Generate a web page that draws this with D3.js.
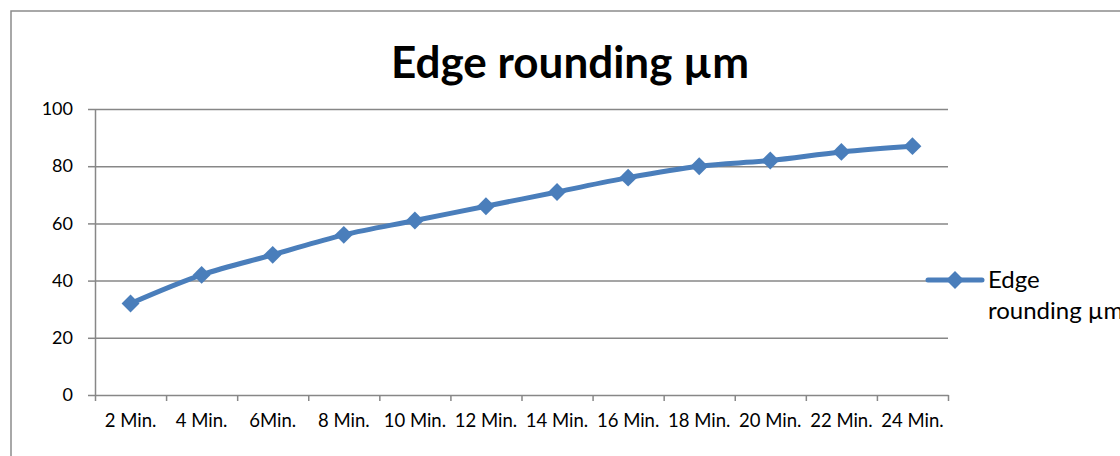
<!DOCTYPE html>
<html>
<head>
<meta charset="utf-8">
<script src="https://cdn.jsdelivr.net/npm/d3@7"></script>
<style>
  html, body { margin: 0; padding: 0; background: #fff; }
  svg { display: block; }
  text { font-family: Lato, "Open Sans", sans-serif; fill: #000; }
</style>
</head>
<body>
<svg width="1120" height="456"></svg>
<script>
// data
const categories = ["2 Min.", "4 Min.", "6Min.", "8 Min.", "10 Min.", "12 Min.",
                    "14 Min.", "16 Min.", "18 Min.", "20 Min.", "22 Min.", "24 Min."];
const edgeRounding = [32, 42, 49, 56, 61, 66, 71, 76, 80, 82, 85, 87];
const yTicks = [0, 20, 40, 60, 80, 100];
const seriesName = "Edge rounding µm";
const titleText = "Edge rounding µm";

const svg = d3.select("svg");
const area = { left: 95, right: 948, top: 109, bottom: 395 };
const lineColor = "#4a7ebb";
const gridColor = "#878787";

// outer chart frame (only top and left edge are visible)
svg.append("path")
    .attr("d", "M11,470 L11,11 L1130,11")
    .attr("fill", "none")
    .attr("stroke", "#8c8c8c")
    .attr("stroke-width", 1.5);

// scales
const scX = d3.scaleBand()
    .domain(categories)
    .range([area.left, area.right]);
const scY = d3.scaleLinear()
    .domain([0, 100])
    .range([area.bottom, area.top]);
const scEdge = d3.scaleLinear()
    .domain([0, categories.length])
    .range([area.left, area.right]);

// horizontal grid lines
svg.append("g")
    .attr("transform", `translate(${area.left},0)`)
    .call(d3.axisLeft(scY).tickValues(yTicks.filter(d => d > 0))
        .tickSize(-(area.right - area.left)).tickFormat(""))
    .call(g => g.select(".domain").remove())
    .selectAll("line")
    .attr("stroke", gridColor)
    .attr("stroke-width", 1.5);

// y axis
const gy = svg.append("g")
    .attr("transform", `translate(${area.left},0)`)
    .call(d3.axisLeft(scY).tickValues(yTicks).tickSize(7).tickPadding(15)
        .tickSizeOuter(0));
gy.select(".domain").attr("stroke", gridColor).attr("stroke-width", 1.5);
gy.selectAll("line").attr("stroke", gridColor).attr("stroke-width", 1.5);
gy.selectAll("text")
    .style("font-size", "18px")
    .attr("fill", "#000");

// x axis: line and tick marks on category boundaries
const gxTicks = svg.append("g")
    .attr("transform", `translate(0,${area.bottom})`)
    .call(d3.axisBottom(scEdge).tickValues(d3.range(categories.length + 1))
        .tickSize(6).tickSizeOuter(0).tickFormat(""));
gxTicks.select(".domain").attr("stroke", gridColor).attr("stroke-width", 1.5);
gxTicks.selectAll("line").attr("stroke", gridColor).attr("stroke-width", 1.5);

// x axis labels at category centres
const gx = svg.append("g")
    .attr("transform", `translate(0,${area.bottom})`)
    .call(d3.axisBottom(scX).tickSize(0).tickPadding(19));
gx.select(".domain").remove();
gx.selectAll("text")
    .style("font-size", "18.5px")
    .attr("fill", "#000");

// title
svg.append("text")
    .attr("x", 570)
    .attr("y", 78)
    .attr("text-anchor", "middle")
    .style("font-size", "44px")
    .style("font-weight", "bold")
    .text(titleText);

// series line (smoothed like the original)
const line = d3.line()
    .x((d, i) => scX(categories[i]) + scX.bandwidth() / 2)
    .y(d => scY(d))
    .curve(d3.curveCatmullRom.alpha(0.5));

svg.append("path")
    .datum(edgeRounding)
    .attr("d", line)
    .attr("fill", "none")
    .attr("stroke", lineColor)
    .attr("stroke-width", 5)
    .attr("stroke-linejoin", "round");

const diamond = d3.symbol().type(d3.symbolSquare).size(160);

svg.selectAll(".dot")
    .data(edgeRounding)
    .enter()
    .append("path")
    .attr("class", "dot")
    .attr("d", diamond)
    .attr("transform", (d, i) =>
        `translate(${scX(categories[i]) + scX.bandwidth() / 2},${scY(d)}) rotate(45)`)
    .attr("fill", lineColor);

// legend
const legend = svg.append("g").attr("transform", "translate(928,280)");
legend.append("line")
    .attr("x1", 0).attr("x2", 54)
    .attr("y1", 0).attr("y2", 0)
    .attr("stroke", lineColor)
    .attr("stroke-width", 5)
    .attr("stroke-linecap", "round");
legend.append("path")
    .attr("d", diamond)
    .attr("transform", "translate(27,0) rotate(45)")
    .attr("fill", lineColor);
const words = seriesName.split(" ");
legend.append("text")
    .attr("x", 60)
    .attr("y", 8)
    .style("font-size", "24px")
    .text(words[0]);
legend.append("text")
    .attr("x", 60)
    .attr("y", 39)
    .style("font-size", "24px")
    .text(words.slice(1).join(" "));
</script>
</body>
</html>
